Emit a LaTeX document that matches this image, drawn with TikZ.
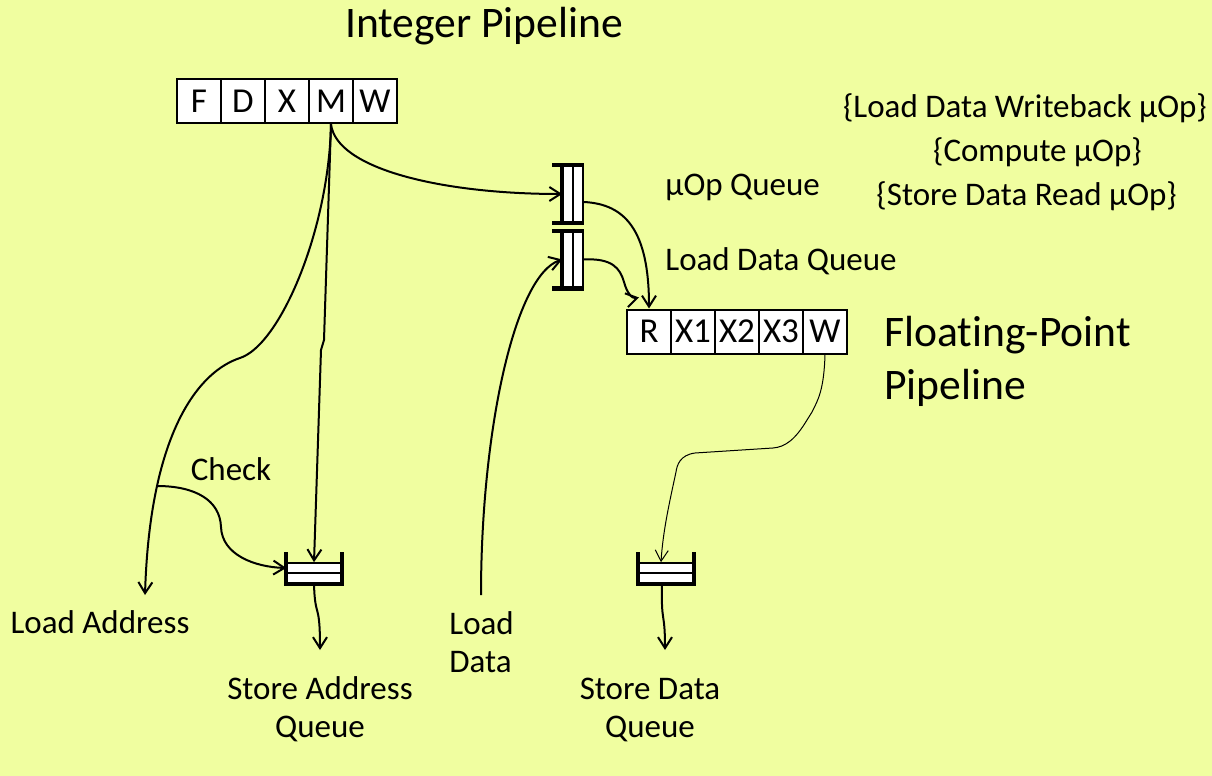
\documentclass[tikz,border=0pt]{standalone}
\usepackage{fontspec}
\setmainfont{Carlito}[Ligatures=NoCommon]
\usepackage{tikz}
\usetikzlibrary{arrows.meta}
\definecolor{bgyellow}{RGB}{240,254,160}
\pgfdeclarelayer{bglayer}
\pgfdeclarelayer{edgelayer}
\pgfdeclarelayer{nodelayer}
\pgfsetlayers{bglayer,edgelayer,nodelayer,main}
\tikzstyle{stage}=[rectangle, draw=black, fill=white, line width=1pt, inner sep=0pt, minimum width=22pt, minimum height=22pt, font=\fontsize{17.5}{21}\selectfont]
\tikzstyle{vslot}=[rectangle, draw=black, fill=white, line width=0.8pt, inner sep=0pt, minimum width=5pt, minimum height=28pt]
\tikzstyle{hslot}=[rectangle, draw=black, fill=white, line width=0.8pt, inner sep=0pt, minimum width=27pt, minimum height=5pt]
\tikzstyle{wall}=[draw=black, line width=2.2pt]
\tikzstyle{edge}=[draw=black, line width=1pt, -{Straight Barb[length=5.5pt,width=7pt]}]
\tikzstyle{thinedge}=[draw=black, line width=0.5pt, -{Straight Barb[length=5.5pt,width=6.5pt]}]
\tikzstyle{caption}=[inner sep=0pt, anchor=base, align=center, font=\fontsize{16.5}{19}\selectfont]
\tikzstyle{title}=[inner sep=0pt, anchor=base west, align=left, font=\fontsize{21.8}{26.5}\selectfont]

\begin{document}
\begin{tikzpicture}[x=0.5pt, y=-0.5pt]
						\begin{pgfonlayer}{bglayer}
							\fill [bgyellow] (0, 0) rectangle (1212, 776);
							\useasboundingbox (0, 0) rectangle (1212, 776);
						\end{pgfonlayer}
						\begin{pgfonlayer}{nodelayer}
							\node [style=stage] (1) at (199, 101) {F};
							\node [style=stage] (2) at (243, 101) {D};
							\node [style=stage] (3) at (287, 101) {X};
							\node [style=stage] (4) at (331, 101) {M};
							\node [style=stage] (5) at (375, 101) {W};
							\node [style=stage] (6) at (649, 331.5) {R};
							\node [style=stage] (7) at (693, 331.5) {X1};
							\node [style=stage] (8) at (737, 331.5) {X2};
							\node [style=stage] (9) at (781, 331.5) {X3};
							\node [style=stage] (10) at (825, 331.5) {W};
							\node [style=vslot] (11) at (568, 194) {};
							\node [style=vslot] (12) at (578, 194) {};
							\node [style=vslot] (13) at (568, 259.5) {};
							\node [style=vslot] (14) at (578, 259.5) {};
							\node [style=hslot] (15) at (314, 568) {};
							\node [style=hslot] (16) at (314, 578) {};
							\node [style=hslot] (17) at (666, 568) {};
							\node [style=hslot] (18) at (666, 578) {};
							\node [style=title, anchor=base] (19) at (484, 38) {Integer Pipeline};
							\node [style=caption, anchor=base west] (20) at (665, 195) {µOp Queue};
							\node [style=caption, anchor=base west] (21) at (665, 270) {Load Data Queue};
							\node [style=title] (22) at (884, 399) {Floating-Point\\Pipeline};
							\node [style=caption] (23) at (1025, 117) {\{Load Data Writeback µOp\}};
							\node [style=caption] (24) at (1037.5, 161) {\{Compute µOp\}};
							\node [style=caption] (25) at (1026.7, 205) {\{Store Data Read µOp\}};
							\node [style=caption] (26) at (231, 480) {Check};
							\node [style=caption] (27) at (100, 633) {Load Address};
							\node [style=caption] (28) at (320, 737) {Store Address\\Queue};
							\node [style=caption, anchor=base west, align=left] (29) at (449, 672) {Load\\Data};
							\node [style=caption] (30) at (650, 737) {Store Data\\Queue};
							\coordinate (31) at (157, 486);
							\coordinate (32) at (145, 595);
							\coordinate (33) at (320, 650);
							\coordinate (34) at (481, 595);
							\coordinate (35) at (665, 650);
						\end{pgfonlayer}
						\begin{pgfonlayer}{edgelayer}
							\draw [style=edge] (4.south) .. controls (336, 169) and (442, 194) .. (11.west);
							\draw [style=edge] (4.south) .. controls (329, 230) and (280, 345) .. (240, 358) .. controls (200, 371) and (150, 430) .. (32);
							\draw [style=edge] (4.south) -- (324, 340) -- (321, 350) -- (15.north);
							\draw [style=edge] (31) .. controls (195, 486) and (220, 500) .. (221, 527) .. controls (222, 555) and (255, 567) .. (15.west);
							\draw [style=edge] (16.south) .. controls (315, 620) and (320, 600) .. (33);
							\draw [style=edge] (34) .. controls (481, 430) and (515, 275) .. (13.west);
							\draw [style=edge] ([yshift=-4pt]12.east) .. controls (625, 204) and (649, 230) .. (6.north);
							\draw [style=edge] (14.east) .. controls (612, 258) and (620, 268) .. (624, 282) .. controls (627, 293) and (632, 299) .. ([xshift=-5pt, yshift=5.5pt]6.north);
							\draw [style=thinedge] (10.south) .. controls (824, 390) and (818, 400) .. (812, 412) -- (807, 420) .. controls (795, 440) and (785, 447) .. (773, 448) -- (695, 453) .. controls (680, 455) and (677, 465) .. (676, 472) .. controls (670, 500) and (663, 530) .. ([xshift=-2.5pt]17.north);
							\draw [style=edge] ([xshift=-2pt]18.south) .. controls (661, 625) and (665, 610) .. (35);
						\end{pgfonlayer}
						\draw [style=wall] ([xshift=-5pt]11.north west) -- (12.north east);
						\draw [style=wall] ([xshift=-5pt]11.south west) -- (12.south east);
						\draw [style=wall] (11.north west) -- (11.south west);
						\draw [style=wall] ([xshift=-5pt]13.north west) -- (14.north east);
						\draw [style=wall] ([xshift=-5pt]13.south west) -- (14.south east);
						\draw [style=wall] (13.north west) -- (13.south west);
						\draw [style=wall] ([yshift=5pt]15.north west) -- (16.south west) -- (16.south east) -- ([yshift=5pt]15.north east);
						\draw [style=wall] ([yshift=5pt]17.north west) -- (18.south west) -- (18.south east) -- ([yshift=5pt]17.north east);
					\end{tikzpicture}
\end{document}
